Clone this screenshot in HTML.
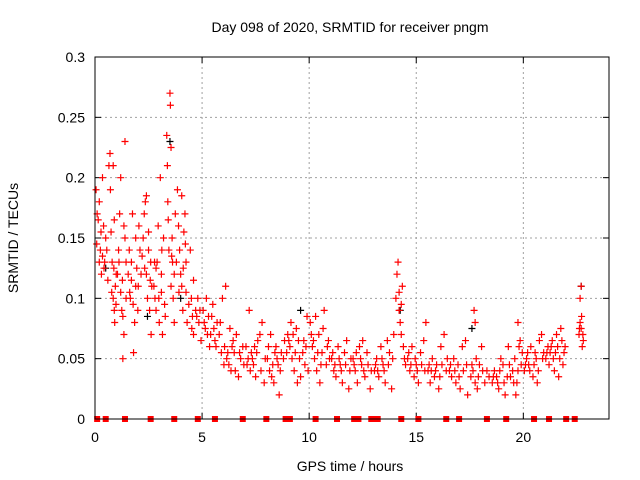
<!DOCTYPE html>
<html><head><meta charset="utf-8"><style>
body{margin:0;background:#fff}
svg{display:block;font-family:"Liberation Sans",sans-serif}
</style></head><body>
<svg id="chart" width="640" height="480" viewBox="0 0 640 480" xmlns="http://www.w3.org/2000/svg">
<text x="350" y="32" font-size="14" text-anchor="middle">Day 098 of 2020, SRMTID for receiver pngm</text>
<text x="350" y="471" font-size="14" text-anchor="middle">GPS time / hours</text>
<text transform="translate(18,238) rotate(-90)" font-size="14" text-anchor="middle">SRMTID / TECUs</text>
<g id="grid"></g>
<g id="ticks"></g>
<g id="marks"></g>
<rect x="95" y="57" width="514" height="362" fill="none" stroke="#000" stroke-width="1"/>
</svg>
<script>
const xTicks=[0,5,10,15,20];
const xTickLabels=["0","5","10","15","20"];
const yTicks=[0,0.05,0.1,0.15,0.2,0.25,0.3];
const yTickLabels=["0","0.05","0.1","0.15","0.2","0.25","0.3"];
const redPoints=[
[0.05,0.19],[0.1,0.17],[0.15,0.165],[0.2,0.13],[0.25,0.14],[0.3,0.12],[0.35,0.2],[0.4,0.16],[0.45,0.13],[0.5,0.15],[0.55,0.14],[0.6,0.115],[0.2,0.18],[0.35,0.135],
[0.65,0.21],[0.7,0.22],[0.72,0.19],[0.75,0.155],[0.8,0.13],[0.85,0.1],[0.9,0.09],[0.92,0.08],[0.95,0.11],[0.98,0.095],[0.99,0.12],[0.85,0.21],[0.9,0.165],
[1.05,0.12],[1.1,0.14],[1.15,0.17],[1.2,0.2],[1.25,0.09],[1.3,0.085],[1.3,0.05],[1.35,0.07],[1.4,0.15],[1.45,0.13],[1.45,0.1],[1.4,0.23],[1.2,0.105],[1.35,0.16],
[1.55,0.12],[1.6,0.14],[1.65,0.1],[1.7,0.13],[1.75,0.17],[1.8,0.055],[1.85,0.08],[1.9,0.11],[1.95,0.125],[2.0,0.09],[2.05,0.16],[2.1,0.14],[1.7,0.115],[1.9,0.15],[2.15,0.12],
[2.25,0.15],[2.3,0.17],[2.35,0.18],[2.4,0.12],[2.45,0.1],[2.5,0.14],[2.55,0.09],[2.6,0.13],[2.62,0.07],[2.65,0.11],[2.4,0.185],[2.5,0.155],
[2.75,0.11],[2.8,0.1],[2.85,0.09],[2.9,0.13],[2.95,0.16],[3.0,0.08],[3.05,0.2],[3.1,0.12],[3.15,0.07],[3.2,0.15],[2.85,0.125],[3.1,0.105],[3.25,0.095],
[3.35,0.235],[3.38,0.21],[3.4,0.18],[3.5,0.27],[3.52,0.26],[3.55,0.225],[3.6,0.15],[3.62,0.13],[3.65,0.1],[3.7,0.08],[3.7,0.12],[3.75,0.17],[3.45,0.14],[3.55,0.11],
[3.85,0.19],[3.9,0.16],[3.95,0.14],[4.0,0.12],[4.05,0.11],[4.1,0.09],[4.15,0.155],[4.2,0.17],[4.25,0.13],[4.3,0.08],[4.05,0.185],[4.25,0.105],
[4.45,0.14],[4.5,0.1],[4.55,0.085],[4.6,0.07],[4.7,0.09],[4.8,0.1],[4.85,0.08],[4.95,0.065],[4.6,0.115],
[5.05,0.09],[5.15,0.075],[5.25,0.07],[5.35,0.06],[5.45,0.085],[5.5,0.095],[5.6,0.065],[5.7,0.08],[5.8,0.07],[5.9,0.055],[5.95,0.1],[5.2,0.1],[5.55,0.075],
[6.05,0.06],[6.15,0.05],[6.25,0.045],[6.35,0.04],[6.45,0.065],[6.5,0.055],[6.6,0.07],[6.7,0.035],[6.8,0.05],[6.1,0.11],[6.9,0.06],[6.3,0.075],
[7.05,0.06],[7.15,0.05],[7.25,0.04],[7.3,0.055],[7.4,0.045],[7.5,0.035],[7.6,0.065],[7.7,0.07],[7.8,0.08],[7.9,0.03],[7.2,0.09],[7.45,0.06],
[8.05,0.05],[8.15,0.04],[8.25,0.035],[8.35,0.03],[8.45,0.06],[8.55,0.045],[8.6,0.02],[8.7,0.055],[8.85,0.065],[8.2,0.07],[8.5,0.05],
[9.0,0.07],[9.1,0.06],[9.2,0.05],[9.3,0.04],[9.4,0.075],[9.5,0.065],[9.6,0.035],[9.7,0.055],[9.8,0.045],[9.9,0.085],[9.15,0.08],[9.45,0.03],
[10.05,0.08],[10.15,0.06],[10.25,0.05],[10.35,0.04],[10.45,0.07],[10.5,0.03],[10.6,0.055],[10.7,0.09],[10.8,0.045],[10.9,0.065],[10.3,0.085],
[11.05,0.05],[11.15,0.04],[11.25,0.035],[11.35,0.06],[11.45,0.045],[11.55,0.03],[11.65,0.055],[11.75,0.065],[11.85,0.025],[11.95,0.05],
[12.05,0.05],[12.15,0.04],[12.25,0.03],[12.35,0.06],[12.45,0.045],[12.6,0.035],[12.7,0.055],[12.85,0.025],[12.5,0.065],
[13.05,0.04],[13.15,0.05],[13.25,0.035],[13.35,0.06],[13.45,0.045],[13.55,0.03],[13.65,0.065],[13.75,0.055],[13.85,0.025],[13.95,0.07],
[14.05,0.1],[14.1,0.12],[14.15,0.13],[14.2,0.09],[14.25,0.08],[14.3,0.07],[14.35,0.11],[14.4,0.06],[14.45,0.05],[14.2,0.105],[14.3,0.095],
[14.6,0.05],[14.7,0.04],[14.8,0.06],[14.9,0.035],[15.0,0.045],[15.1,0.03],[15.2,0.055],[15.35,0.065],[15.45,0.08],
[15.55,0.04],[15.65,0.03],[15.75,0.05],[15.85,0.035],[15.95,0.045],[16.05,0.025],[16.15,0.06],[16.3,0.07],[16.4,0.04],
[16.55,0.04],[16.65,0.035],[16.75,0.05],[16.85,0.03],[16.95,0.045],[17.05,0.025],[17.15,0.06],[17.3,0.065],[17.4,0.02],
[17.55,0.035],[17.65,0.04],[17.75,0.03],[17.8,0.05],[17.85,0.025],[17.95,0.045],[18.05,0.06],[17.7,0.09],[17.75,0.08],[18.3,0.04],
[18.55,0.03],[18.65,0.04],[18.75,0.035],[18.85,0.025],[18.95,0.05],[19.05,0.045],[19.15,0.02],[19.3,0.06],[19.4,0.035],
[19.5,0.04],[19.6,0.05],[19.65,0.02],[19.7,0.03],[19.8,0.06],[19.85,0.065],[19.95,0.055],[19.75,0.08],
[20.05,0.04],[20.15,0.05],[20.25,0.045],[20.35,0.06],[20.45,0.035],[20.55,0.055],[20.65,0.03],[20.75,0.065],[20.85,0.07],[20.9,0.05],
[21.05,0.05],[21.15,0.06],[21.25,0.055],[21.35,0.065],[21.45,0.04],[21.55,0.07],[21.65,0.035],[21.75,0.075],[21.85,0.045],[21.95,0.06],
[22.6,0.07],[22.65,0.08],[22.7,0.075],[22.75,0.06],[22.65,0.1],[22.7,0.11],[22.8,0.065]
];
const densePoints=[
[0.08,0.145],[0.28,0.155],[0.42,0.125],[0.78,0.105],[0.88,0.125],[1.12,0.13],[1.28,0.115],[1.62,0.105],[1.78,0.095],[2.02,0.11],[2.2,0.135],[2.32,0.125],[2.58,0.115],[2.78,0.13],[2.98,0.1],[3.12,0.14],[3.28,0.085],[3.42,0.165],[3.58,0.135],[3.8,0.13],[3.92,0.105],[4.12,0.125],[4.22,0.145],[4.38,0.095],[4.52,0.075],[4.75,0.085],[4.9,0.09],
[5.1,0.08],[5.3,0.085],[5.4,0.07],[5.65,0.06],[5.85,0.08],[6.02,0.045],[6.2,0.055],[6.4,0.06],[6.55,0.04],[6.75,0.055],[6.95,0.045],[7.1,0.045],[7.35,0.05],[7.55,0.055],[7.75,0.04],[7.95,0.05],[8.1,0.06],[8.3,0.045],[8.4,0.055],[8.65,0.04],[8.8,0.05],[8.95,0.055],
[9.05,0.065],[9.25,0.07],[9.35,0.055],[9.55,0.05],[9.75,0.065],[9.85,0.06],[9.95,0.04],[10.1,0.07],[10.2,0.065],[10.4,0.055],[10.55,0.045],[10.65,0.075],[10.85,0.06],[10.95,0.05],[11.1,0.055],[11.2,0.045],[11.4,0.05],[11.5,0.04],[11.7,0.045],[11.9,0.04],
[12.1,0.045],[12.2,0.055],[12.4,0.05],[12.55,0.04],[12.75,0.045],[12.9,0.04],[13.1,0.045],[13.2,0.04],[13.4,0.05],[13.5,0.04],[13.7,0.045],[13.9,0.05],[14.5,0.045],[14.65,0.055],[14.75,0.045],[14.95,0.05],[15.05,0.04],[15.25,0.045],[15.4,0.04],
[15.6,0.045],[15.7,0.04],[15.9,0.04],[16.1,0.035],[16.2,0.045],[16.45,0.05],[16.6,0.045],[16.8,0.04],[17.0,0.035],[17.2,0.04],[17.35,0.045],[17.6,0.045],[17.9,0.035],[18.1,0.04],[18.2,0.03],[18.4,0.035],
[18.6,0.035],[18.8,0.03],[18.9,0.04],[19.1,0.03],[19.25,0.035],[19.35,0.045],[19.55,0.03],[19.75,0.04],[19.9,0.045],[20.1,0.045],[20.2,0.055],[20.3,0.04],[20.5,0.045],[20.6,0.05],[20.7,0.04],[20.95,0.055],
[21.1,0.055],[21.2,0.045],[21.3,0.06],[21.4,0.05],[21.5,0.055],[21.6,0.06],[21.7,0.05],[21.8,0.065],[21.9,0.055],[22.62,0.075],[22.72,0.085],[22.78,0.07]
];
const blackPoints=[[0.5,0.125],[2.45,0.085],[3.5,0.23],[4.0,0.1],[9.6,0.09],[14.25,0.09],[17.6,0.075],[22.7,0.11]];
const zeroPoints=[0.1,0.5,1.4,2.6,3.7,4.8,5.6,6.9,8.0,8.9,9.0,9.1,10.3,11.3,12.1,12.2,12.3,12.9,13.05,13.2,14.3,15.1,16.4,17.0,18.3,19.2,20.5,21.2,22.0,22.4];
const X0=95,X1=609,Y0=419,Y1=57;
const xs=h=>X0+(h/24)*(X1-X0);
const ys=v=>Y0-(v/0.3)*(Y0-Y1);
const NS="http://www.w3.org/2000/svg";
function mk(tag,attrs,parent){const e=document.createElementNS(NS,tag);for(const k in attrs)e.setAttribute(k,attrs[k]);parent.appendChild(e);return e;}
const grid=document.getElementById('grid'),ticks=document.getElementById('ticks'),marks=document.getElementById('marks');
xTicks.forEach((t,i)=>{const x=xs(t);
 if(t>0){const g=mk('line',{x1:x,x2:x,y1:Y0,y2:Y1,stroke:'#a0a0a0','stroke-dasharray':'2,3'},grid);}
 const tl=mk('line',{x1:x,x2:x,y1:Y0,y2:Y0-6,stroke:'#000'},ticks);
 const tl2=mk('line',{x1:x,x2:x,y1:Y1,y2:Y1+6,stroke:'#000'},ticks);
 const tx=mk('text',{x:x,y:442,'font-size':14,'text-anchor':'middle'},ticks);tx.textContent=xTickLabels[i];});
yTicks.forEach((t,i)=>{const y=ys(t);
 if(t>0&&t<0.3){const g=mk('line',{x1:X0,x2:X1,y1:y,y2:y,stroke:'#a0a0a0','stroke-dasharray':'2,3'},grid);}
 const tl=mk('line',{x1:X0,x2:X0+6,y1:y,y2:y,stroke:'#000'},ticks);
 const tl2=mk('line',{x1:X1,x2:X1-6,y1:y,y2:y,stroke:'#000'},ticks);
 const tx=mk('text',{x:X0-10,y:y+5,'font-size':14,'text-anchor':'end'},ticks);tx.textContent=yTickLabels[i];});
function plus(h,v,col){const x=xs(h),y=ys(v);
 const p=mk('path',{d:`M${x-3.5},${y}h7M${x},${y-3.5}v7`,stroke:col,'stroke-width':1.2,fill:'none'},marks);
 
 }
blackPoints.forEach(p=>plus(p[0],p[1],'#000'));
redPoints.forEach(p=>plus(p[0],p[1],'#ff0000'));
densePoints.forEach(p=>plus(p[0],p[1],'#ff0000'));
zeroPoints.forEach(h=>{const r=mk('rect',{x:xs(h)-3,y:Y0-3,width:6,height:6,fill:'#ff0000'},marks);
 
 });
</script>
</body></html>
